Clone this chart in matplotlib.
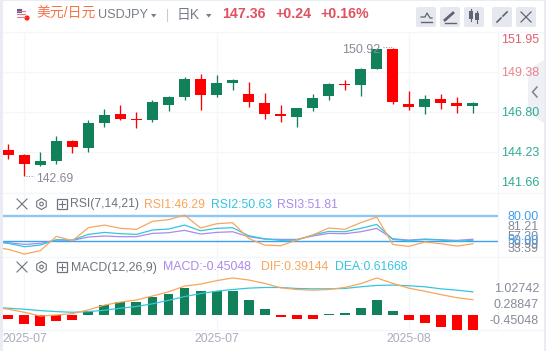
from matplotlib import pyplot as plt
from matplotlib.patches import Circle, FancyBboxPatch, Polygon, Rectangle
import numpy as np

W, H = 546, 351

# candles, low/high in price
opens = [144.34, 144.02, 143.37, 143.63, 144.92, 144.47, 146.07, 146.65, 146.33, 146.26,
         147.23, 147.74, 148.90, 147.87, 148.64, 147.94, 147.36, 146.65, 146.46, 147.04,
         147.81, 148.58, 148.51, 149.54, 150.83, 147.29, 147.10, 147.61, 147.36, 147.16]
closes = [144.02, 143.46, 143.63, 144.92, 144.53, 146.07, 146.59, 146.33, 146.29, 147.42,
          147.74, 148.90, 147.87, 148.64, 148.83, 147.42, 146.65, 146.54, 147.04, 147.68,
          148.58, 148.51, 149.54, 150.83, 147.42, 147.10, 147.61, 147.36, 147.16, 147.36]
highs = [144.72, 144.08, 144.21, 145.24, 144.98, 146.26, 146.97, 147.23, 146.78, 147.55,
         147.81, 149.03, 149.22, 149.16, 148.90, 148.71, 148.00, 147.23, 147.04, 147.94,
         148.64, 148.83, 149.61, 150.83, 150.92, 148.13, 147.87, 147.94, 147.72, 147.42]
lows = [143.76, 142.69, 143.31, 143.44, 144.14, 144.21, 145.81, 146.26, 145.75, 146.14,
        146.84, 147.55, 146.91, 147.74, 148.19, 147.10, 146.33, 146.14, 145.81, 146.84,
        147.55, 148.19, 147.81, 149.54, 147.29, 146.91, 146.65, 146.97, 146.71, 146.71]

# indicator lines have one extra point before the first candle (cut by the axes edge)
rsi1 = [42.7, 39.5, 33.8, 37.9, 55.3, 50.0, 65.8, 69.0, 65.0, 63.8, 73.5, 75.5, 81.2, 65.4, 70.6, 71.9,
        52.8, 44.7, 43.9, 50.8, 56.9, 65.4, 63.8, 71.9, 78.7, 45.5, 43.1, 48.4, 46.4, 43.5, 46.29]
rsi2 = [48.8, 46.8, 42.7, 44.7, 51.2, 50.8, 57.7, 60.1, 58.5, 57.7, 63.0, 64.2, 69.0, 62.1, 65.0, 65.8,
        56.1, 52.4, 50.4, 50.8, 56.9, 61.3, 60.9, 65.0, 69.8, 51.6, 50.0, 51.6, 50.8, 49.2, 50.63]
rsi3 = [48.8, 47.6, 45.5, 46.8, 50.8, 50.4, 54.5, 55.7, 54.9, 54.9, 58.9, 59.7, 62.6, 58.1, 60.1, 60.9,
        54.9, 52.0, 51.6, 51.6, 55.7, 58.9, 58.5, 60.9, 65.0, 52.4, 50.8, 52.0, 51.2, 50.4, 51.81]
dif = [.23, .17, .08, -.03, 0, .04, .15, .29, .38, .44, .56, .68, .85, .91, 1.01, 1.09,
       1.03, .93, .80, .75, .73, .75, .81, .92, 1.09, .93, .79, .70, .60, .51, .45]
dea = [.23, .20, .17, .13, .10, .08, .10, .14, .20, .25, .33, .43, .54, .63, .70, .75,
       .79, .81, .81, .78, .77, .77, .78, .83, .87, .88, .86, .83, .77, .73, .68]
macd = [-.12, -.26, -.32, -.18, -.15, .12, .29, .38, .38, .53, .62, .79, .71, .71, .72,
        .44, .18, -.06, -.12, -.12, .015, .06, .21, .44, .12, -.15, -.24, -.35, -.44, -.44]

# tick labels
price_grid = [149.38, 146.80, 144.23]
month_idx = [1, 13, 25]
month_labels = ['2025-07', '2025-07', '2025-08']

GREEN = '#11815a'
RED = '#ff0000'
ORANGE = '#f9a65c'
CYAN = '#35c5df'
PURPLE = '#a98be8'
GRID = '#f4f6fa'
GRAY = '#868b98'
TEAL = '#2bab94'

plt.rcParams['font.family'] = ['Liberation Sans', 'Noto Sans CJK SC', 'DejaVu Sans']

fig = plt.figure(figsize=(W / 100, H / 100), dpi=100, facecolor='#e9ecf3')


def panel(top, bottom, left=2.5, right=498):
    ax = fig.add_axes([left / W, 1 - bottom / H, (right - left) / W, (bottom - top) / H])
    # candle i sits at 8.3 + 16.02 * i pixels
    ax.set_xlim((left - 8.3) / 16.02, (right - 8.3) / 16.02)
    ax.set_facecolor('none')
    for s in ax.spines.values():
        s.set_visible(False)
    ax.tick_params(length=0, labelleft=False, labelbottom=False)
    ax.set_xticks(month_idx)
    ax.grid(True, color=GRID, lw=1)
    ax.set_axisbelow(True)
    return ax


# white card and pixel overlay for the chrome
back = fig.add_axes([0, 0, 1, 1], zorder=-1)
back.set_xlim(0, W)
back.set_ylim(H, 0)
back.axis('off')
back.add_patch(Rectangle((2.5, 1), 541.5, 350, fc='white', ec='none'))
for y in [32, 192.7, 256.7, 330]:
    back.plot([2.5, 544], [y, y], color=GRID, lw=1)
back.plot([498, 498], [32, 330], color=GRID, lw=1)

x_all = np.arange(len(opens))
x_line = np.arange(-1, len(opens))

ax = panel(32, 192.7)
ax.set_ylim(141.59, 151.92)
ax.set_yticks(price_grid)
for i in x_all:
    c = GREEN if closes[i] >= opens[i] else RED
    ax.vlines(i, lows[i], highs[i], color=c, lw=0.95)
    ax.bar(i, max(abs(closes[i] - opens[i]), 0.04), bottom=min(opens[i], closes[i]), width=0.69, color=c)

rsi = panel(192.7, 256.7)
rsi.set_ylim(30.6, 108.3)
rsi.set_yticks([])
rsi.axhline(80, color='#8fc6f2', lw=1.7)
rsi.axhline(50, color='#3f9ff0', lw=1)
rsi.plot(x_line, rsi3, color=PURPLE, lw=0.9)
rsi.plot(x_line, rsi2, color=CYAN, lw=0.9)
rsi.plot(x_line, rsi1, color=ORANGE, lw=0.9)

mc = panel(256.7, 330)
mc.set_ylim(-0.441, (315 - 256.7) * 3 / 102)
mc.set_yticks([])
mc.bar(x_all, macd, width=0.62, color=[GREEN if v > 0 else RED for v in macd])
mc.plot(x_line, dea, color=CYAN, lw=0.9)
mc.plot(x_line, dif, color=ORANGE, lw=0.9)

# overlay for texts and icons
top = fig.add_axes([0, 0, 1, 1], zorder=5)
top.set_xlim(0, W)
top.set_ylim(H, 0)
top.axis('off')
top.patch.set_alpha(0)


def txt(x, y, s, color=GRAY, size=9.0, ha='left', **kw):
    top.text(x, y, s, color=color, fontsize=size, ha=ha, va='center', **kw)


# header
top.add_patch(Circle((21, 13), 5, fc='#f3f3f6', ec='none'))
top.add_patch(Rectangle((16.5, 8.5), 5, 4.5, fc='#5b5f95', ec='none'))
for y in [11, 14, 17]:
    top.plot([17, 25], [y, y], color='#e8757c', lw=0.7)
top.add_patch(Circle((27, 18), 2.6, fc='#ff1f1f', ec='none'))
txt(36, 14, '美元/日元', color='#f5744c', size=10)
txt(98, 15, 'USDJPY', color='#767c89', size=9.1)
top.add_patch(Polygon([[151, 14], [156.5, 14], [153.7, 17.5]], fc='#767c89'))
top.plot([167, 167], [9, 21], color='#c9ccd4', lw=0.8)
txt(177, 14.5, '日K', color='#767c89', size=10)
top.add_patch(Polygon([[206, 14], [211.5, 14], [208.7, 17.5]], fc='#767c89'))
txt(222, 14.5, '147.36', color='#e0525f', size=10.2, fontweight='bold')
txt(275, 14.5, '+0.24', color='#e0525f', size=10.2, fontweight='bold')
txt(320, 14.5, '+0.16%', color='#e0525f', size=10.2, fontweight='bold')

# buttons on the right of the header
for x0 in [416, 440, 464, 492, 516]:
    top.add_patch(FancyBboxPatch((x0 + 2, 9), 16, 16, boxstyle='round,pad=2', fc='#e6e8ef', ec='none'))
top.plot([421, 425, 427, 430, 432], [17, 17, 13, 18, 18], color='#5f6470', lw=0.9)
top.plot([421, 432], [22, 22], color='#5f6470', lw=1)
top.plot([445, 453], [20, 13], color='#5f6470', lw=2)
top.plot([445, 456], [22.5, 22.5], color='#5f6470', lw=1)
top.add_patch(Rectangle((469, 11), 4, 8, fc='#5f6470'))
top.add_patch(Rectangle((475, 13), 4, 7, fc='#5f6470'))
top.plot([471, 471], [9, 21], color='#5f6470', lw=0.8)
top.plot([477, 477], [11, 23], color='#5f6470', lw=0.8)
top.plot([497, 501], [22, 18], color='#5f6470', lw=1.2)
top.plot([503, 507], [16, 12], color='#5f6470', lw=1.2)
top.plot([521, 531], [12, 22], color='#5f6470', lw=0.9)
top.plot([531, 521], [12, 22], color='#5f6470', lw=0.9)

# collapse tab on the right
top.add_patch(Polygon([[544, 60], [528, 70], [528, 113], [544, 123]], fc='#eef0f5', ec='none'))
top.plot([537, 532.5, 537], [87, 92, 97], color='#7b808c', lw=1.1)

# price labels
txt(539, 39.7, '151.95', color='#e0606f', ha='right')
txt(539, 72.7, '149.38', color='#e8838e', ha='right')
txt(539, 113.3, '146.80', color=TEAL, ha='right')
txt(539, 153.3, '144.23', color=TEAL, ha='right')
txt(539, 183.5, '141.66', color=TEAL, ha='right')
txt(36.5, 179, '142.69', size=8.7)
top.plot([26, 34], [176, 176], color=GRAY, lw=0.7, ls=':')
txt(380, 49.7, '150.92', ha='right')
top.plot([383, 393], [47, 47], color=GRAY, lw=0.7, ls=':')


def icons(y):
    top.plot([17, 27], [y - 5, y + 5], color='#6e7380', lw=0.8)
    top.plot([27, 17], [y - 5, y + 5], color='#6e7380', lw=0.8)
    a = np.pi / 6 + np.arange(6) * np.pi / 3
    top.add_patch(Polygon(np.c_[41.5 + 5.5 * np.cos(a), y + 5.5 * np.sin(a)], fc='none', ec='#6e7380', lw=0.8))
    top.add_patch(Circle((41.5, y), 1.8, fc='none', ec='#6e7380', lw=0.8))
    top.add_patch(Rectangle((56.5, y - 5), 10, 10, fc='none', ec='#6e7380', lw=0.9))
    top.plot([58.5, 64.5], [y, y], color='#6e7380', lw=0.8)
    top.plot([61.5, 61.5], [y - 3, y + 3], color='#6e7380', lw=0.8)


# RSI labels
icons(204)
txt(70, 204.5, 'RSI(7,14,21)', color='#6e7380', size=8.7)
txt(144, 204.5, 'RSI1:46.29', color=ORANGE, size=8.8)
txt(211, 204.5, 'RSI2:50.63', color=CYAN, size=8.8)
txt(277, 204.5, 'RSI3:51.81', color=PURPLE, size=8.8)
txt(539, 216.5, '80.00', color='#3f9ff0', ha='right')
txt(539, 226.5, '81.21', ha='right')
txt(539, 236.5, '57.30', ha='right')
txt(539, 244.5, '39.99', ha='right')
txt(539, 241, '50.00', color='#3f9ff0', ha='right')
txt(539, 248.5, '33.39', ha='right')

# MACD labels
icons(267)
txt(71, 267.5, 'MACD(12,26,9)', color='#6e7380', size=8.9)
txt(163, 267.5, 'MACD:-0.45048', color=PURPLE, size=8.9)
txt(261, 267.5, 'DIF:0.39144', color=ORANGE, size=8.8)
txt(335, 267.5, 'DEA:0.61668', color=CYAN, size=8.8)
txt(539, 289.5, '1.02742', ha='right')
txt(539, 305.5, '0.28847', ha='right')
txt(539, 321.5, '-0.45048', ha='right')

# month labels below
for i, lab in zip(month_idx, month_labels):
    txt(8.3 + 16.02 * i, 339, lab, color='#a9adb8', ha='center', size=8.7)

fig.savefig('out.png', dpi=100, facecolor=fig.get_facecolor())
